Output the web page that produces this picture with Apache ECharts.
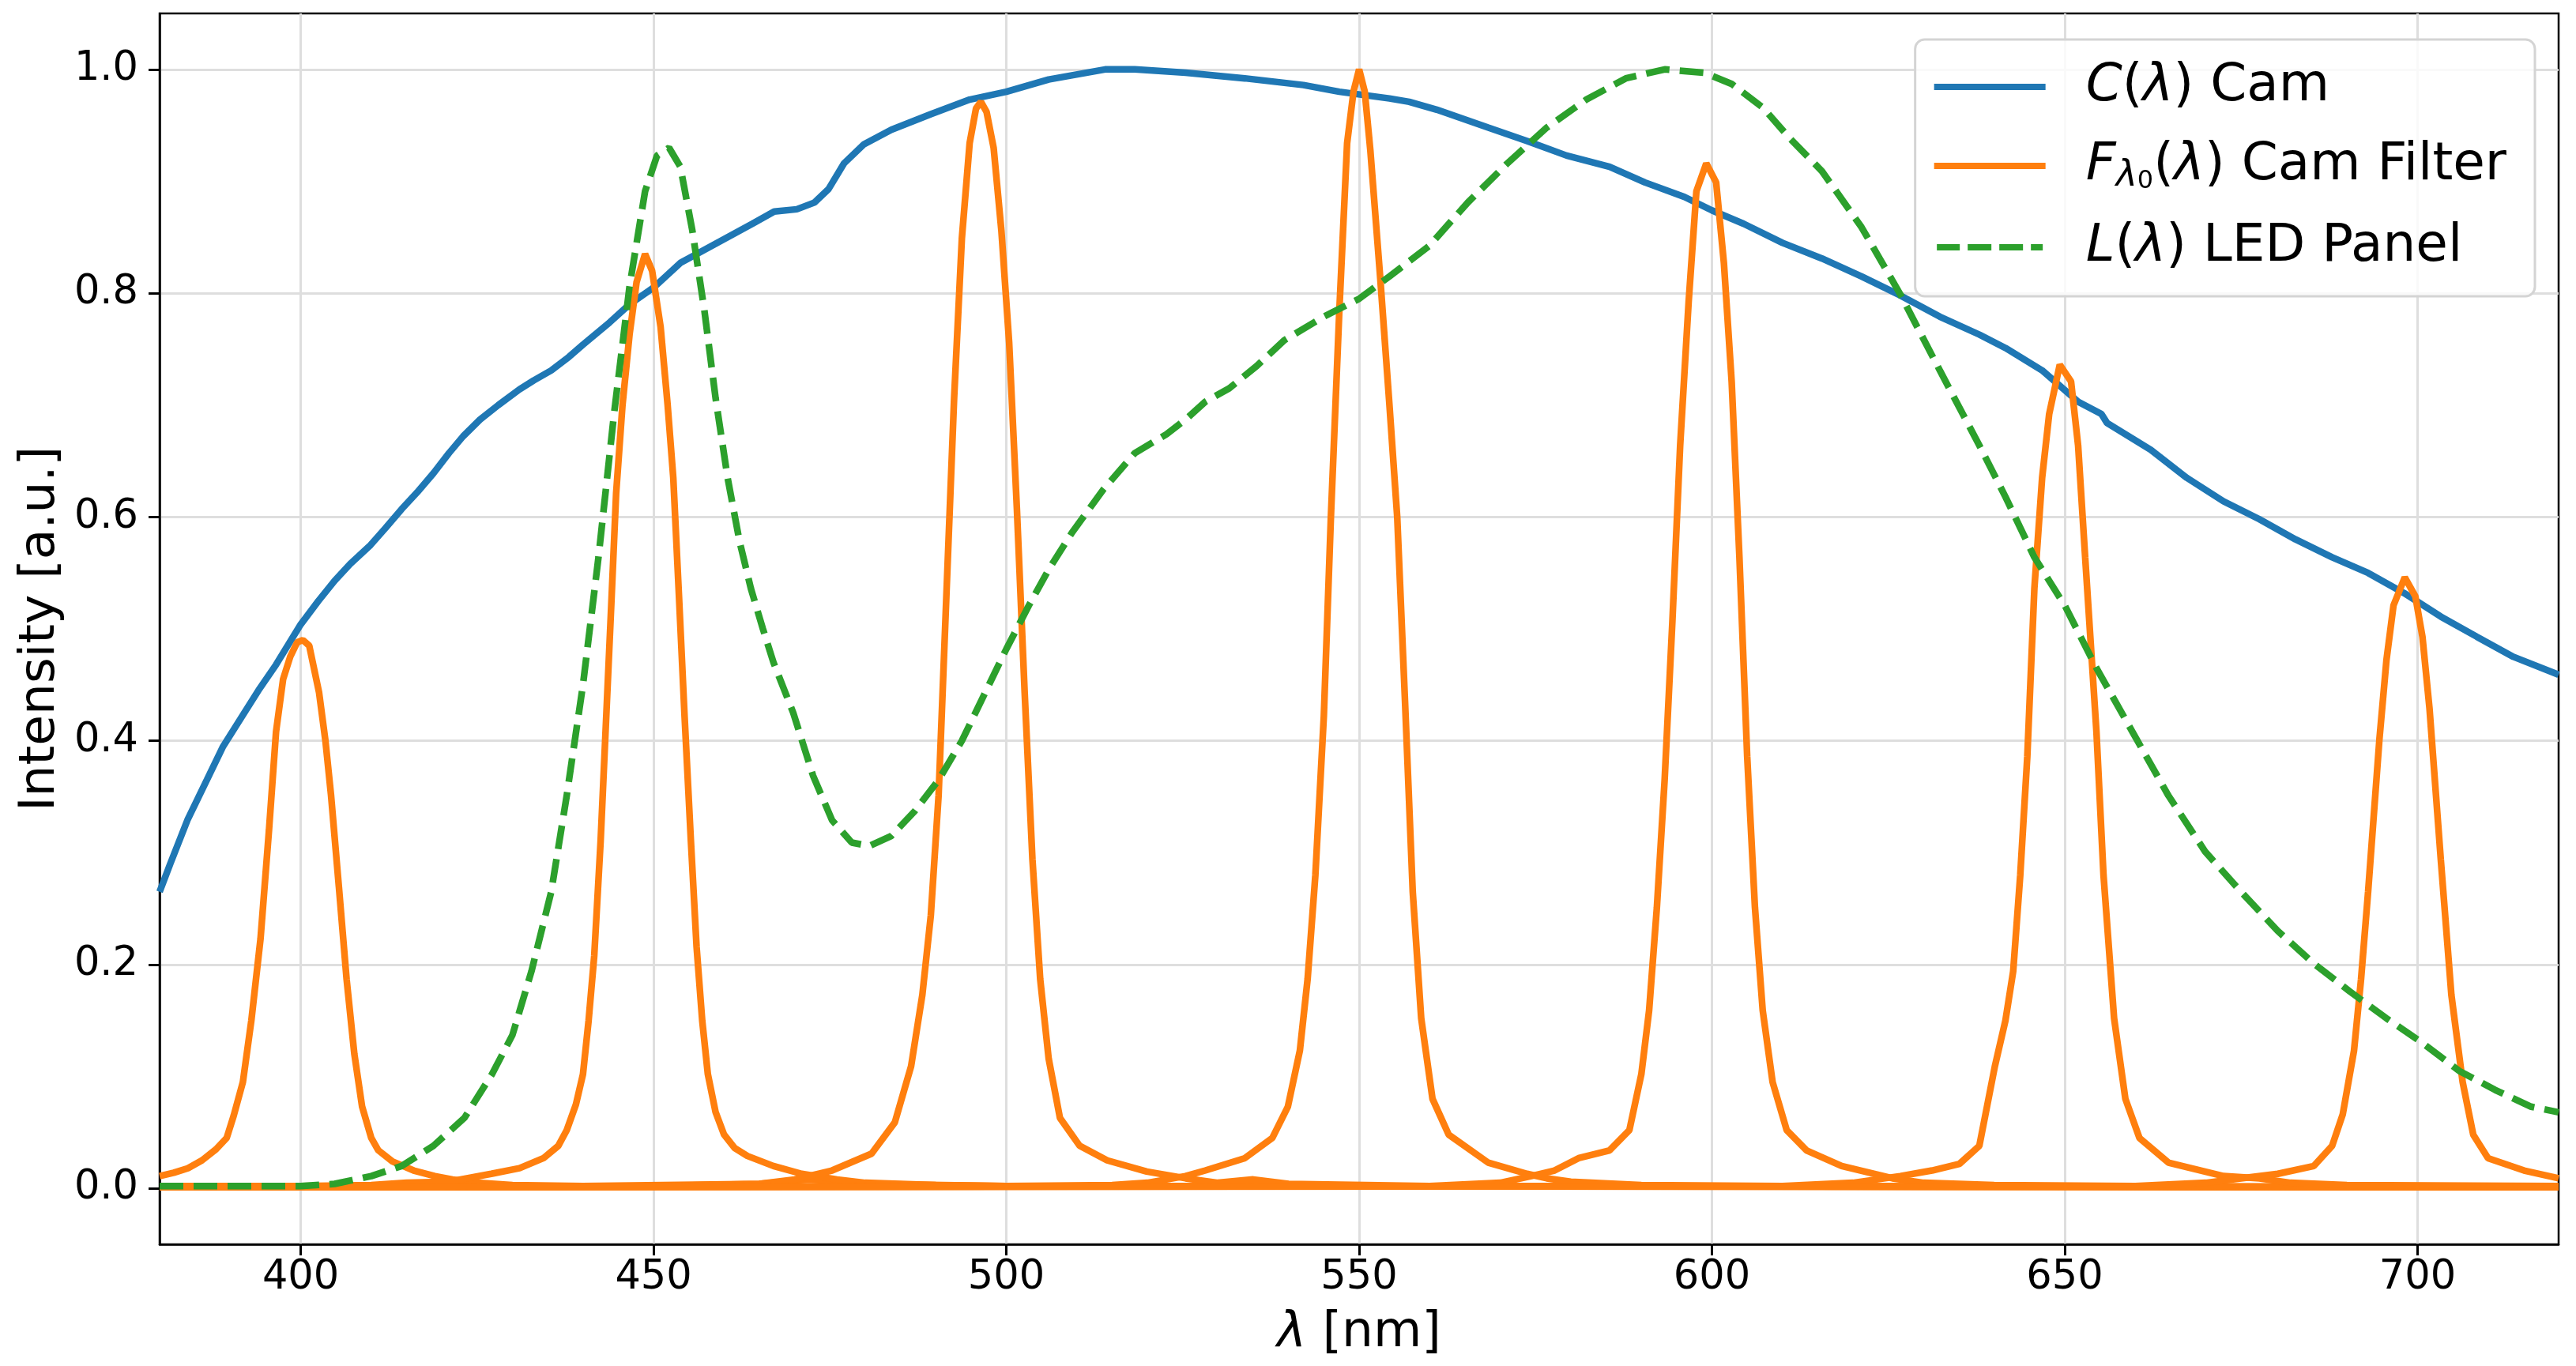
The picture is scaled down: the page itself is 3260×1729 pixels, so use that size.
<!DOCTYPE html>
<html>
<head>
<meta charset="utf-8">
<title>Camera, filter and LED spectra</title>
<script src="https://cdn.jsdelivr.net/npm/echarts@6/dist/echarts.min.js"></script>
<style>
    html, body { margin: 0; padding: 0; background: #ffffff; }
    #chart { width: 3260px; height: 1729px; }
</style>
</head>
<body>
<div id="chart"></div>
<script>
// Tick positions
const xTicks = [400, 450, 500, 550, 600, 650, 700];
const yTicks = [0.0, 0.2, 0.4, 0.6, 0.8, 1.0];

// Camera response C(lambda), [nm, intensity]
const camera = [
    [380, 0.265], [381.5, 0.29], [384, 0.33], [386.7, 0.365], [389, 0.395], [392, 0.425],
    [394, 0.445], [396.5, 0.468], [400, 0.504], [402.5, 0.525], [404.8, 0.543], [407, 0.558],
    [409.9, 0.575], [412, 0.59], [414.3, 0.607], [416.5, 0.622], [418.8, 0.639], [421, 0.657],
    [423, 0.672], [425.4, 0.687], [428, 0.7], [431, 0.714], [433, 0.722], [435.5, 0.731],
    [438, 0.743], [440, 0.754], [443.8, 0.774], [446.6, 0.79], [450, 0.805], [453.8, 0.827],
    [457, 0.838], [460.5, 0.85], [464, 0.862], [467.1, 0.873], [470.3, 0.875], [472.8, 0.881],
    [474.8, 0.893], [477, 0.916], [479.8, 0.933], [483.7, 0.946], [489.3, 0.96], [494.8, 0.973],
    [500, 0.98], [506, 0.991], [514, 1.0], [518.2, 1.0], [525.4, 0.997], [533.8, 0.992],
    [542.1, 0.986], [547.2, 0.98], [554.3, 0.974], [557.1, 0.971], [561, 0.964], [568.3, 0.948],
    [573.8, 0.936], [579.4, 0.923], [585.5, 0.913], [590.5, 0.899], [596.1, 0.886], [600, 0.874],
    [604.5, 0.862], [610, 0.845], [615.6, 0.831], [621.2, 0.815], [626.7, 0.798], [632.3, 0.779],
    [637.9, 0.763], [641.6, 0.751], [646.8, 0.731], [651.9, 0.703], [655.2, 0.692], [656, 0.684],
    [662.2, 0.66], [667.3, 0.635], [672.5, 0.614], [677.6, 0.598], [682.7, 0.58], [687.9, 0.564],
    [693, 0.55], [698.1, 0.532], [703.3, 0.511], [708.4, 0.493], [713.6, 0.475], [720, 0.459]
];

// LED panel emission L(lambda)
const led = [
    [380, 0.002], [395, 0.002], [400, 0.002], [404.8, 0.004], [410, 0.011], [414.3, 0.02],
    [418.8, 0.038], [423.2, 0.063], [427.1, 0.102], [430, 0.137], [432.7, 0.194], [435.5, 0.265],
    [437.7, 0.351], [440, 0.45], [442.2, 0.564], [444.4, 0.692], [446.6, 0.806], [448.8, 0.891],
    [450.5, 0.923], [452.2, 0.93], [453.8, 0.913], [455.5, 0.856], [457.2, 0.785], [458.8, 0.706],
    [460.5, 0.635], [462.2, 0.578], [463.8, 0.536], [465.5, 0.5], [467, 0.47], [469.8, 0.425],
    [472.6, 0.369], [475.3, 0.329], [478.1, 0.309], [480.6, 0.306], [483.7, 0.315], [487, 0.337],
    [490.4, 0.365], [493.7, 0.4], [497, 0.443], [500, 0.482], [503.2, 0.521], [506, 0.553],
    [509.3, 0.586], [513.8, 0.625], [518.2, 0.657], [522.7, 0.674], [525.4, 0.687], [528.2, 0.703],
    [531.6, 0.715], [535.5, 0.735], [539.4, 0.758], [545, 0.779], [550, 0.795], [554.3, 0.815],
    [559.9, 0.842], [565.4, 0.881], [571, 0.916], [576.6, 0.948], [582.2, 0.973], [587.8, 0.992],
    [593.3, 1.0], [598.9, 0.997], [602.8, 0.987], [607.2, 0.966], [611.1, 0.938], [615.6, 0.909],
    [621.2, 0.859], [626.7, 0.799], [632.3, 0.731], [637.9, 0.664], [641.6, 0.618], [645.7, 0.564],
    [650, 0.521], [654.5, 0.465], [659.6, 0.408], [664.7, 0.351], [669.9, 0.301], [675, 0.265],
    [680.2, 0.23], [685.3, 0.201], [690.4, 0.176], [695.6, 0.152], [700.7, 0.13], [705.9, 0.105],
    [711, 0.088], [716.1, 0.073], [720, 0.068]
];

// Camera filter transmissions F(lambda), one per centre wavelength
const filter400 = [
    [380, 0.011], [382, 0.014], [384, 0.018], [386, 0.025], [388, 0.035], [389.5, 0.045],
    [390.5, 0.065], [391.8, 0.095], [393, 0.15], [394.3, 0.223], [395.5, 0.32], [396.5, 0.408],
    [397.5, 0.455], [398.5, 0.475], [399.5, 0.488], [400.3, 0.49], [401.2, 0.485], [402.6, 0.443],
    [403.5, 0.4], [404.3, 0.351], [405.4, 0.27], [406.5, 0.187], [407.6, 0.12], [408.7, 0.073],
    [410, 0.045], [411, 0.034], [413, 0.024], [416, 0.016], [419, 0.011], [421.5, 0.008],
    [425, 0.005], [430, 0.003], [440, 0.002], [465, 0.004], [472, 0.008], [480, 0.004],
    [500, 0.002], [720, 0.001]
];
const filter450 = [
    [380, 0.002], [400, 0.002], [410, 0.003], [415, 0.005], [421, 0.006], [427, 0.013],
    [431, 0.018], [434.4, 0.027], [436.5, 0.038], [437.7, 0.052], [439, 0.075], [440, 0.102],
    [440.8, 0.15], [441.6, 0.208], [442.5, 0.31], [443.3, 0.422], [444, 0.52], [444.7, 0.621],
    [445.6, 0.7], [446.6, 0.763], [447.6, 0.81], [448.8, 0.835], [449.8, 0.82], [451, 0.77],
    [452, 0.7], [452.8, 0.635], [453.6, 0.53], [454.4, 0.422], [455.3, 0.31], [456.1, 0.216],
    [456.9, 0.15], [457.7, 0.102], [458.8, 0.068], [460, 0.048], [461.5, 0.036], [463.3, 0.029],
    [467, 0.02], [471, 0.013], [476, 0.008], [480, 0.005], [490, 0.003], [500, 0.002],
    [720, 0.001]
];
const filter500 = [
    [380, 0.001], [450, 0.002], [465, 0.004], [470, 0.008], [475.3, 0.016], [480.9, 0.031],
    [484.2, 0.059], [486.5, 0.109], [488.1, 0.173], [489.3, 0.244], [490.4, 0.351], [491.5, 0.529],
    [492.6, 0.706], [493.7, 0.849], [494.8, 0.934], [495.7, 0.965], [496.4, 0.971], [497.2, 0.962],
    [498.2, 0.93], [499.3, 0.856], [500.4, 0.756], [501.5, 0.607], [502.6, 0.443], [503.7, 0.294],
    [504.8, 0.187], [506, 0.116], [507.6, 0.063], [510.4, 0.038], [514.3, 0.025], [519.9, 0.015],
    [525.4, 0.009], [530, 0.005], [535, 0.008], [540, 0.004], [560, 0.002], [720, 0.001]
];
const filter550 = [
    [380, 0.001], [500, 0.002], [515, 0.003], [520, 0.005], [525.4, 0.011], [528.2, 0.016],
    [533.8, 0.027], [537.7, 0.045], [539.9, 0.073], [541.6, 0.123], [542.7, 0.187], [543.8, 0.28],
    [545, 0.422], [546, 0.6], [547.2, 0.785], [548.3, 0.934], [549.2, 0.98], [550, 1.0],
    [550.8, 0.98], [551.6, 0.927], [553, 0.813], [554.3, 0.7], [555.4, 0.6], [556.5, 0.436],
    [557.6, 0.265], [558.8, 0.152], [560.4, 0.08], [562.7, 0.048], [568.3, 0.023], [573.8, 0.013],
    [576.6, 0.009], [580, 0.006], [590, 0.003], [610, 0.002], [720, 0.001]
];
const filter600 = [
    [380, 0.001], [560, 0.002], [570, 0.005], [574.4, 0.011], [577.7, 0.016], [581.1, 0.027],
    [585.5, 0.034], [588.3, 0.052], [590, 0.102], [591.1, 0.159], [592.2, 0.251], [593.3, 0.365],
    [594.4, 0.507], [595.5, 0.664], [596.7, 0.792], [597.8, 0.891], [599.2, 0.916], [600.6, 0.899],
    [601.7, 0.827], [602.8, 0.721], [603.9, 0.564], [605, 0.386], [606.1, 0.251], [607.2, 0.159],
    [608.6, 0.095], [610.6, 0.052], [613.4, 0.034], [618.4, 0.02], [625.6, 0.009], [630, 0.005],
    [640, 0.003], [660, 0.002], [720, 0.001]
];
const filter650 = [
    [380, 0.001], [610, 0.002], [620, 0.005], [626.7, 0.011], [631.2, 0.016], [635.1, 0.022],
    [637.9, 0.038], [640.1, 0.109], [641.6, 0.15], [642.7, 0.194], [643.7, 0.28], [644.7, 0.386],
    [645.7, 0.536], [646.8, 0.635], [647.8, 0.692], [649.3, 0.736], [650.9, 0.721], [651.9, 0.664],
    [652.9, 0.564], [654.5, 0.408], [655.5, 0.28], [657, 0.152], [658.6, 0.08], [660.6, 0.045],
    [664.7, 0.023], [672.5, 0.011], [677.6, 0.009], [682, 0.005], [690, 0.003], [720, 0.002]
];
const filter700 = [
    [380, 0.001], [660, 0.002], [670, 0.005], [675, 0.009], [680.2, 0.013], [685.3, 0.02],
    [687.9, 0.038], [689.4, 0.066], [691, 0.123], [692, 0.187], [693, 0.265], [694.6, 0.401],
    [695.6, 0.472], [696.6, 0.521], [698.2, 0.546], [699.7, 0.529], [700.7, 0.493], [701.7, 0.429],
    [703.3, 0.294], [704.8, 0.173], [706.4, 0.095], [707.9, 0.048], [710, 0.027], [715.1, 0.016],
    [720, 0.009]
];
const filters = [filter400, filter450, filter500, filter550, filter600, filter650, filter700];

const FONT = 'DejaVu Sans';
const LW = 8.5;

const chart = echarts.init(document.getElementById('chart'), null, { renderer: 'canvas' });

// rich text pieces for the mathtext-like labels
const richBase = { fontFamily: FONT, fontSize: 66, lineHeight: 72, color: '#000' };
const legendRich = {
    g: { width: 46, lineHeight: 72 },
    n: Object.assign({}, richBase),
    it: Object.assign({}, richBase, { fontStyle: 'italic' }),
    // subscript lambda and its own subscript 0, pushed down by a short line box
    sub: Object.assign({}, richBase, { fontSize: 46, lineHeight: 38, fontStyle: 'italic', verticalAlign: 'bottom' }),
    sub0: Object.assign({}, richBase, { fontSize: 32, lineHeight: 8, verticalAlign: 'bottom' })
};
const legendText = {
    C: '{g|}{it|C}{n|(}{it|λ}{n|) Cam}',
    F: '{g|}{it|F}{sub|λ}{sub0|0}{n|(}{it|λ}{n|) Cam Filter}',
    L: '{g|}{it|L}{n|(}{it|λ}{n|) LED Panel}'
};

// legend handles: a solid bar and a dashed bar
const solidIcon = 'path://M0,0h141v8h-141z';
const dashedIcon = 'path://M4,0h29v8h-29z M43,0h30v8h-30z M83,0h30v8h-30z M123,0h15v8h-15z';

function lineSeries(name, data, color, extra) {
    return Object.assign({
        name: name,
        type: 'line',
        data: data,
        showSymbol: false,
        symbol: 'none',
        lineStyle: { color: color, width: LW },
        itemStyle: { color: color },
        animation: false
    }, extra || {});
}

const series = [];
series.push(lineSeries('C', camera, '#1f77b4', { z: 2 }));
filters.forEach(f => {
    series.push(lineSeries('F', f, '#ff7f0e', { z: 3 }));
});
series.push(lineSeries('L', led, '#2ca02c', {
    z: 4,
    lineStyle: { color: '#2ca02c', width: LW, type: [30, 13], cap: 'butt' }
}));

const option = {
    backgroundColor: '#ffffff',
    animation: false,
    grid: {
        left: 202,
        right: 22,
        top: 17,
        bottom: 154,
        show: true,
        borderColor: '#000000',
        borderWidth: 2.5,
        backgroundColor: 'transparent'
    },
    legend: {
        data: [
            { name: 'C', icon: solidIcon },
            { name: 'F', icon: solidIcon },
            { name: 'L', icon: dashedIcon }
        ],
        orient: 'vertical',
        right: 52,
        top: 50,
        padding: [27, 36, 29, 24],
        itemWidth: 141,
        itemHeight: 8,
        itemGap: 34,
        backgroundColor: 'rgba(255,255,255,0.8)',
        borderColor: '#d4d4d4',
        borderWidth: 3,
        borderRadius: 12,
        formatter: name => legendText[name],
        textStyle: { fontFamily: FONT, fontSize: 66, color: '#000', rich: legendRich },
        z: 10
    },
    xAxis: {
        type: 'value',
        min: 380,
        max: 720,
        name: '{it|λ}{n| [nm]}',
        nameLocation: 'middle',
        nameGap: 81,
        nameTextStyle: {
            fontFamily: FONT, fontSize: 63, color: '#000',
            rich: {
                it: { fontFamily: FONT, fontSize: 63, fontStyle: 'italic', color: '#000' },
                n: { fontFamily: FONT, fontSize: 63, color: '#000' }
            }
        },
        axisLine: { show: true, onZero: false, lineStyle: { color: '#000', width: 2.5 } },
        axisTick: { show: true, inside: false, length: 14, customValues: xTicks, lineStyle: { color: '#000', width: 3 } },
        axisLabel: { margin: 17, customValues: xTicks, fontFamily: FONT, fontSize: 51, color: '#000' },
        splitLine: { show: true, lineStyle: { color: '#dedede', width: 3 } }
    },
    yAxis: {
        type: 'value',
        min: -0.05,
        max: 1.05,
        name: 'Intensity [a.u.]',
        nameLocation: 'middle',
        nameRotate: 90,
        nameGap: 114,
        nameTextStyle: { fontFamily: FONT, fontSize: 63, color: '#000' },
        axisLine: { show: true, onZero: false, lineStyle: { color: '#000', width: 2.5 } },
        axisTick: { show: true, inside: false, length: 14, customValues: yTicks, lineStyle: { color: '#000', width: 3 } },
        axisLabel: {
            margin: 27, customValues: yTicks, fontFamily: FONT, fontSize: 51, color: '#000',
            formatter: v => v.toFixed(1)
        },
        splitLine: { show: true, lineStyle: { color: '#dedede', width: 3 } }
    },
    series: series
};

chart.setOption(option);

window.addEventListener('resize', function() {
    chart.resize();
});
</script>
</body>
</html>
